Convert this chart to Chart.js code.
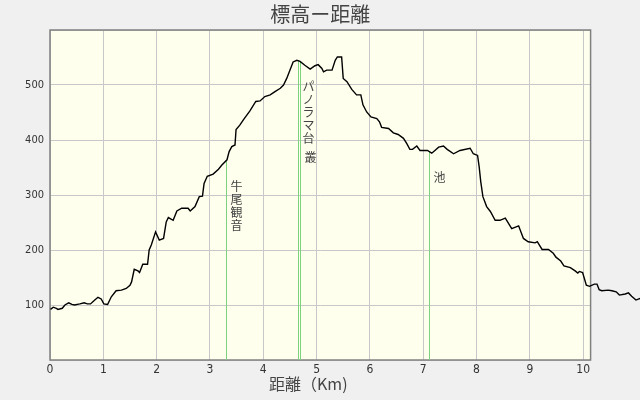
<!DOCTYPE html>
<html>
<head>
<meta charset="utf-8">
<script src="https://cdn.jsdelivr.net/npm/chart.js@4.4.0/dist/chart.umd.min.js"></script>
<style>
  html, body { margin: 0; padding: 0; background: #f0f0f0; }
  #wrap { width: 640px; height: 400px; }
</style>
</head>
<body>
<div id="wrap"><canvas id="profileChart" width="640" height="400"></canvas></div>
<script>
// elevation profile
const distKm = [0.01, 0.06, 0.12, 0.15, 0.23, 0.28, 0.35, 0.41, 0.46, 0.56, 0.64, 0.70, 0.76, 0.84, 0.90, 0.96,
    1.01, 1.08, 1.15, 1.24, 1.34, 1.43, 1.50, 1.53, 1.58, 1.65, 1.68, 1.74, 1.83, 1.86, 1.90, 1.98,
    2.05, 2.13, 2.18, 2.22, 2.31, 2.38, 2.47, 2.59, 2.63, 2.72, 2.80, 2.86, 2.89, 2.95,
    3.06, 3.16, 3.22, 3.32, 3.36, 3.41, 3.47, 3.49, 3.56, 3.63, 3.75, 3.86, 3.94,
    4.03, 4.13, 4.22, 4.32, 4.38, 4.44, 4.50, 4.56, 4.63, 4.69, 4.78, 4.88, 4.97,
    5.03, 5.10, 5.13, 5.19, 5.29, 5.35, 5.39, 5.47, 5.50, 5.57, 5.66, 5.75, 5.83, 5.87, 5.94,
    6.02, 6.13, 6.18, 6.22, 6.35, 6.44, 6.53, 6.63, 6.69, 6.75, 6.80, 6.88, 6.94,
    7.08, 7.16, 7.22, 7.29, 7.38, 7.45, 7.57, 7.69, 7.88, 7.94,
    8.02, 8.05, 8.08, 8.12, 8.19, 8.26, 8.35, 8.44, 8.54, 8.66, 8.79, 8.88, 8.97,
    9.10, 9.14, 9.23, 9.35, 9.44, 9.49, 9.58, 9.64, 9.76, 9.85, 9.90, 9.93, 9.99,
    10.06, 10.12, 10.21, 10.26, 10.30, 10.35, 10.47, 10.54, 10.62, 10.68, 10.79, 10.85, 10.91, 10.99, 11.07];
const elevM = [92, 96, 94, 92, 94, 100, 104, 101, 100, 102, 104, 102, 102, 109, 114, 111,
    102, 101, 115, 126, 127, 130, 136, 142, 165, 162, 159, 174, 174, 200, 209, 233,
    218, 221, 251, 259, 254, 271, 276, 276, 271, 279, 297, 298, 321, 334,
    338, 347, 354, 364, 379, 388, 391, 419, 427, 437, 453, 470, 471,
    479, 482, 488, 494, 500, 512, 527, 542, 545, 543, 536, 529, 535,
    537, 530, 524, 527, 527, 545, 551, 551, 512, 506, 492, 482, 482, 464, 451,
    442, 439, 433, 423, 421, 413, 410, 403, 394, 383, 383, 389, 381,
    381, 376, 381, 387, 389, 383, 375, 381, 385, 375,
    372, 351, 324, 297, 279, 270, 254, 254, 258, 239, 244, 221, 215,
    213, 215, 201, 201, 194, 187, 180, 171, 168, 162, 158, 161, 159,
    136, 134, 138, 138, 128, 126, 127, 126, 124, 118, 120, 122, 116, 109, 112];

// waypoints (green lines)
const waypointKm = [3.31, 4.66, 4.69, 7.10];
const waypointNames = ['牛尾観音', 'パノラマ台', '叢', '池'];

const xTicks = [0, 1, 2, 3, 4, 5, 6, 7, 8, 9, 10];
const yTicks = [0, 100, 200, 300, 400, 500, 600];
const xRange = [0, 10.14];

const tickFont = "'Liberation Sans Narrow', 'DejaVu Sans Condensed', 'Liberation Sans', sans-serif";
const cjkFont = "'Noto Sans CJK JP', sans-serif";

function elevAt(km) {
    for (let i = 1; i < distKm.length; i++) {
        if (distKm[i] >= km) {
            const t = (km - distKm[i - 1]) / (distKm[i] - distKm[i - 1]);
            return elevM[i - 1] + t * (elevM[i] - elevM[i - 1]);
        }
    }
    return elevM[elevM.length - 1];
}

// background of plot area, frame, waypoint lines and labels, titles
const profileDecor = {
    id: 'profileDecor',
    beforeDraw(chart) {
        const { ctx, chartArea: a } = chart;
        ctx.save();
        ctx.fillStyle = '#f0f0f0';
        ctx.fillRect(0, 0, chart.width, chart.height);
        ctx.fillStyle = '#ffffee';
        ctx.fillRect(a.left, a.top, a.right - a.left, a.bottom - a.top);
        ctx.restore();
    },
    beforeDatasetsDraw(chart) {
        const { ctx, chartArea: a, scales } = chart;
        ctx.save();
        // frame
        ctx.strokeStyle = '#808080';
        ctx.lineWidth = 1.5;
        ctx.strokeRect(a.left, a.top, a.right - a.left, a.bottom - a.top);

        // waypoint lines
        ctx.strokeStyle = 'rgb(125,210,125)';
        ctx.lineWidth = 1;
        let prev = null;
        ctx.font = '12px ' + cjkFont;
        ctx.fillStyle = '#444';
        ctx.textAlign = 'left';
        ctx.textBaseline = 'top';
        waypointKm.forEach((km, i) => {
            const x = Math.round(scales.x.getPixelForValue(km)) + 0.5;
            const yTop = scales.y.getPixelForValue(elevAt(km));
            ctx.beginPath();
            ctx.moveTo(x, a.bottom);
            ctx.lineTo(x, yTop);
            ctx.stroke();

            // vertical label, stacked under the previous one if they collide
            let y = yTop + 20;
            if (prev && Math.abs(prev.x - x) < 10 && y < prev.end) y = prev.end + 6;
            const chars = Array.from(waypointNames[i]);
            chars.forEach((c, j) => ctx.fillText(c, x + 4, y + j * 13));
            prev = { x: x, end: y + chars.length * 13 };
        });
        ctx.restore();
    },
    afterDraw(chart) {
        const { ctx, chartArea: a } = chart;
        ctx.save();
        ctx.fillStyle = '#444';
        ctx.textAlign = 'center';
        ctx.textBaseline = 'middle';
        ctx.font = '20px ' + cjkFont;
        ctx.fillText('標高ー距離', (a.left + a.right) / 2, 14);
        ctx.font = '16px ' + cjkFont;
        ctx.fillText('距離（Km)', (a.left + a.right) / 2 - 12, 384);
        ctx.restore();
    }
};

new Chart(document.getElementById('profileChart'), {
    type: 'line',
    data: {
        datasets: [{
            data: distKm.map((d, i) => ({ x: d, y: elevM[i] })),
            borderColor: '#000',
            borderWidth: 1.4,
            pointRadius: 0,
            tension: 0,
            fill: false,
            clip: false
        }]
    },
    options: {
        responsive: false,
        animation: false,
        devicePixelRatio: 1,
        layout: { padding: { top: 30, right: 49.4, left: 0, bottom: 0 } },
        plugins: {
            legend: { display: false },
            tooltip: { enabled: false },
            title: { display: false }
        },
        scales: {
            x: {
                type: 'linear',
                // range set here (not via min/max) so the trace past 10.14 km is still drawn
                afterBuildTicks: (axis) => {
                    axis.ticks = xTicks.map(v => ({ value: v }));
                    axis.min = xRange[0];
                    axis.max = xRange[1];
                },
                afterFit: (scale) => { scale.height = 40; },
                grid: { color: 'rgb(200,200,200)', lineWidth: 1, drawTicks: false },
                border: { display: false },
                ticks: {
                    padding: 3,
                    color: '#333',
                    font: { family: tickFont, size: 12 },
                    maxRotation: 0,
                    autoSkip: false
                }
            },
            y: {
                type: 'linear',
                min: 0,
                max: 600,
                afterBuildTicks: (axis) => { axis.ticks = yTicks.map(v => ({ value: v })); },
                afterFit: (scale) => { scale.width = 50; },
                grid: { color: 'rgb(200,200,200)', lineWidth: 1, drawTicks: false },
                border: { display: false },
                ticks: {
                    padding: 6,
                    color: '#333',
                    font: { family: tickFont, size: 11 },
                    callback: (v) => (v === 0 || v === 600) ? '' : v
                }
            }
        }
    },
    plugins: [profileDecor]
});
</script>
</body>
</html>
